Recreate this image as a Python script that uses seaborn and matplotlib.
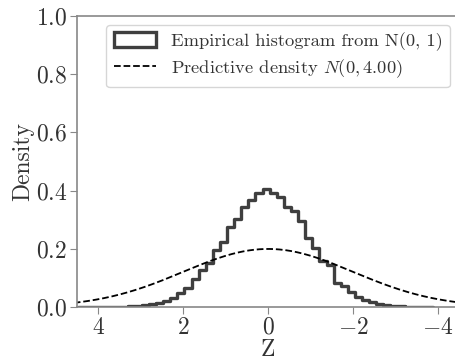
import numpy as np
import pandas as pd
import matplotlib
matplotlib.use("Agg")
import matplotlib.pyplot as plt
import seaborn as sns
from matplotlib.patches import Patch
from matplotlib.lines import Line2D

# histogram bins, left edge -> right edge in data units
bin_lo = -3.884
bin_hi = 4.48
n_bins = 50
hist_heights = [0.001, 0.001, 0.002, 0.002, 0.004, 0.005, 0.008, 0.012, 0.017, 0.024,
                0.035, 0.053, 0.072, 0.084, 0.144, 0.158, 0.202, 0.236, 0.296, 0.330,
                0.343, 0.379, 0.393, 0.404, 0.391, 0.368, 0.345, 0.301, 0.274, 0.224,
                0.196, 0.152, 0.127, 0.095, 0.064, 0.047, 0.030, 0.022, 0.015, 0.010,
                0.007, 0.005, 0.003, 0.002, 0.002, 0.001, 0.001, 0.000, 0.000, 0.001]

# predictive density parameters (from legend)
pred_mean = 0.0
pred_var = 4.00

x_ticks = [4, 2, 0, -2, -4]
y_ticks = [0.0, 0.2, 0.4, 0.6, 0.8, 1.0]

sns.set_style("ticks")
plt.rcParams['font.family'] = 'serif'
plt.rcParams['font.serif'] = ['cmr10', 'DejaVu Serif']
plt.rcParams['mathtext.fontset'] = 'cm'
plt.rcParams['axes.formatter.use_mathtext'] = True

edges = np.linspace(bin_lo, bin_hi, n_bins + 1)
centers = (edges[:-1] + edges[1:]) / 2
df = pd.DataFrame({'z': centers, 'w': hist_heights})

fig = plt.figure(figsize=(4.56, 3.63), dpi=100)
ax = fig.add_axes([0.169, 0.154, 0.838, 0.803])

hist_col = '#3f3f3f'
sns.histplot(data=df, x='z', weights='w', bins=list(edges), stat='count',
             element='step', fill=False, color=hist_col, linewidth=2.4, ax=ax)

xs = np.linspace(-4.6, 4.6, 400)
pdf = np.exp(-(xs - pred_mean) ** 2 / (2 * pred_var)) / np.sqrt(2 * np.pi * pred_var)
sns.lineplot(x=xs, y=pdf, color='black', linestyle='--', linewidth=1.3, ax=ax)

ax.set_xlim(4.5, -4.5)
ax.set_ylim(0, 1.0)
ax.set_xticks(x_ticks)
ax.set_yticks(y_ticks)
ax.set_xlabel('Z', fontsize=17, labelpad=0, color='#333333')
ax.set_ylabel('Density', fontsize=17, color='#333333')
ax.yaxis.set_label_coords(-0.112, 0.5)
ax.tick_params(labelsize=17, length=5, color='#888888', labelcolor='#333333', pad=2)
for s in ['left', 'bottom', 'top']:
    ax.spines[s].set_color('#888888')
    ax.spines[s].set_linewidth(1.2)
ax.spines['right'].set_visible(False)

handles = [Patch(facecolor='none', edgecolor=hist_col, linewidth=2.4),
           Line2D([0], [0], color='black', linestyle='--', linewidth=1.3)]
labels = ['Empirical histogram from N(0, 1)', 'Predictive density $N(0, 4.00)$']
leg = ax.legend(handles, labels, loc='upper right', fontsize=13.3, frameon=True,
                fancybox=True, handlelength=2.3, handleheight=0.85,
                borderaxespad=0.5, labelspacing=0.35)
for t in leg.get_texts():
    t.set_color('#333333')

fig.savefig('out.png', dpi=100)
